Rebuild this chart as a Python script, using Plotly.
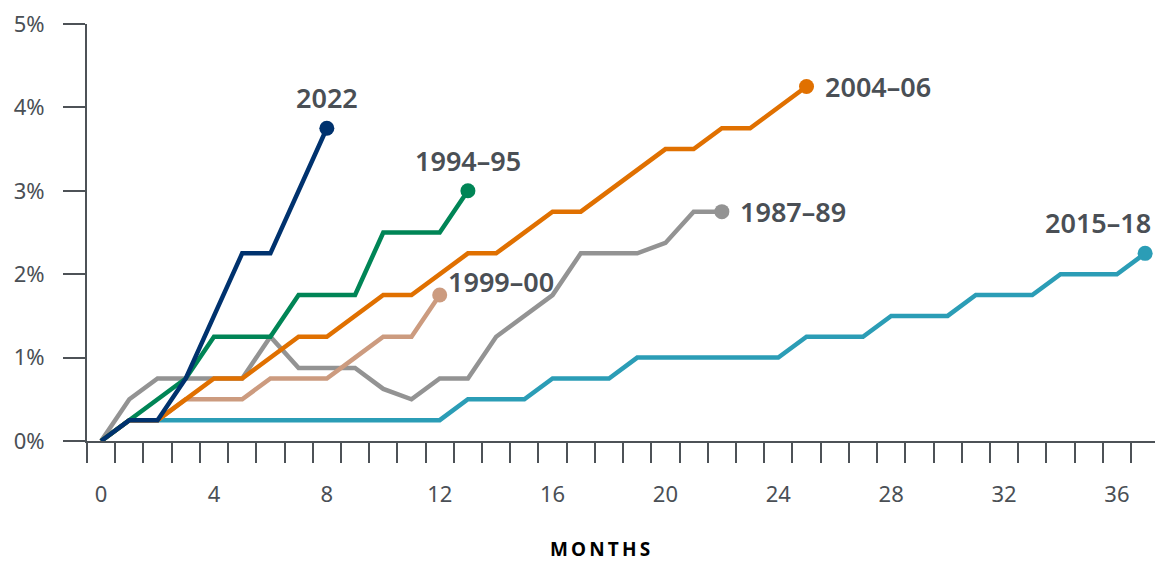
import plotly.graph_objects as go

months_2022 = list(range(0, 9))
vals_2022 = [0, 0.25, 0.25, 0.75, 1.5, 2.25, 2.25, 3.0, 3.75]

months_1994 = list(range(0, 14))
vals_1994 = [0, 0.25, 0.5, 0.75, 1.25, 1.25, 1.25, 1.75, 1.75, 1.75, 2.5, 2.5, 2.5, 3.0]

months_2004 = list(range(0, 26))
vals_2004 = [0, 0.25, 0.25, 0.5, 0.75, 0.75, 1.0, 1.25, 1.25, 1.5, 1.75, 1.75, 2.0,
             2.25, 2.25, 2.5, 2.75, 2.75, 3.0, 3.25, 3.5, 3.5, 3.75, 3.75, 4.0, 4.25]

months_1999 = list(range(0, 13))
vals_1999 = [0, 0.25, 0.25, 0.5, 0.5, 0.5, 0.75, 0.75, 0.75, 1.0, 1.25, 1.25, 1.75]

months_1987 = list(range(0, 23))
vals_1987 = [0, 0.5, 0.75, 0.75, 0.75, 0.75, 1.25, 0.875, 0.875, 0.875, 0.625, 0.5,
             0.75, 0.75, 1.25, 1.5, 1.75, 2.25, 2.25, 2.25, 2.375, 2.75, 2.75]

months_2015 = list(range(0, 38))
vals_2015 = [0, 0.25, 0.25, 0.25, 0.25, 0.25, 0.25, 0.25, 0.25, 0.25, 0.25, 0.25, 0.25,
             0.5, 0.5, 0.5, 0.75, 0.75, 0.75, 1.0, 1.0, 1.0, 1.0, 1.0, 1.0,
             1.25, 1.25, 1.25, 1.5, 1.5, 1.5, 1.75, 1.75, 1.75, 2.0, 2.0, 2.0, 2.25]

x_tick_vals = [0, 4, 8, 12, 16, 20, 24, 28, 32, 36]
x_tick_text = ["0", "4", "8", "12", "16", "20", "24", "28", "32", "36"]
y_tick_vals = [0, 1, 2, 3, 4, 5]
y_tick_text = ["0%", "1%", "2%", "3%", "4%", "5%"]
x_title = "MONTHS"

series = [
    ("2015–18", months_2015, vals_2015, "#2b9db6"),
    ("1987–89", months_1987, vals_1987, "#939393"),
    ("1999–00", months_1999, vals_1999, "#cc9b7f"),
    ("2004–06", months_2004, vals_2004, "#e07000"),
    ("1994–95", months_1994, vals_1994, "#008556"),
    ("2022", months_2022, vals_2022, "#00326e"),
]

label_pos = {
    "2022": dict(xanchor="center", yanchor="bottom", xshift=0, yshift=10),
    "1994–95": dict(xanchor="center", yanchor="bottom", xshift=0, yshift=10),
    "2004–06": dict(xanchor="left", yanchor="middle", xshift=16, yshift=0),
    "1987–89": dict(xanchor="left", yanchor="middle", xshift=16, yshift=0),
    "1999–00": dict(xanchor="left", yanchor="middle", xshift=6, yshift=14),
    "2015–18": dict(xanchor="right", yanchor="bottom", xshift=8, yshift=10),
}

FONT = "Noto Sans"
TXT = "#4a4f55"

fig = go.Figure()
annotations = []
for name, xs, ys, col in series:
    fig.add_trace(go.Scatter(x=xs, y=ys, mode="lines", line=dict(color=col, width=4.5),
                             showlegend=False, cliponaxis=False, hoverinfo="skip"))
    fig.add_trace(go.Scatter(x=[xs[-1]], y=[ys[-1]], mode="markers",
                             marker=dict(color=col, size=15), showlegend=False,
                             cliponaxis=False, hoverinfo="skip"))
    p = label_pos[name]
    annotations.append(dict(x=xs[-1], y=ys[-1], xref="x", yref="y", text=name,
                            showarrow=False, font=dict(family=FONT, size=27, color=TXT, weight=600),
                            **p))

annotations.append(dict(x=(600 - 87) / (1155 - 87), y=-(549 - 441) / (441 - 24),
                        xref="paper", yref="paper", text="\u2009".join(x_title),
                        xanchor="center", yanchor="middle", showarrow=False,
                        font=dict(family=FONT, size=19, color="#000000", weight=700)))

fig.update_layout(
    width=1155, height=561,
    margin=dict(l=87, r=0, t=24, b=120),
    paper_bgcolor="white", plot_bgcolor="white",
    annotations=annotations,
    xaxis=dict(range=[-0.5, 37.35], showgrid=False, zeroline=False,
               showline=True, linecolor="#4d5257", linewidth=2,
               tickmode="array", tickvals=x_tick_vals, ticktext=x_tick_text,
               ticks="", ticklabelstandoff=33,
               tickfont=dict(family=FONT, size=22, color=TXT),
               minor=dict(tickmode="linear", tick0=-0.5, dtick=1, ticks="outside",
                          ticklen=20, tickwidth=2, tickcolor="#4d5257", showgrid=False)),
    yaxis=dict(range=[0, 5], showgrid=False, zeroline=False,
               showline=True, linecolor="#4d5257", linewidth=2,
               tickmode="array", tickvals=y_tick_vals, ticktext=y_tick_text,
               ticks="outside", ticklen=22, tickwidth=2, tickcolor="#4d5257",
               ticklabelstandoff=14,
               tickfont=dict(family=FONT, size=22, color=TXT)),
)

fig.write_html("out.html", config={"displayModeBar": False},
               post_script="document.body.style.margin='0';document.body.style.padding='0';")
